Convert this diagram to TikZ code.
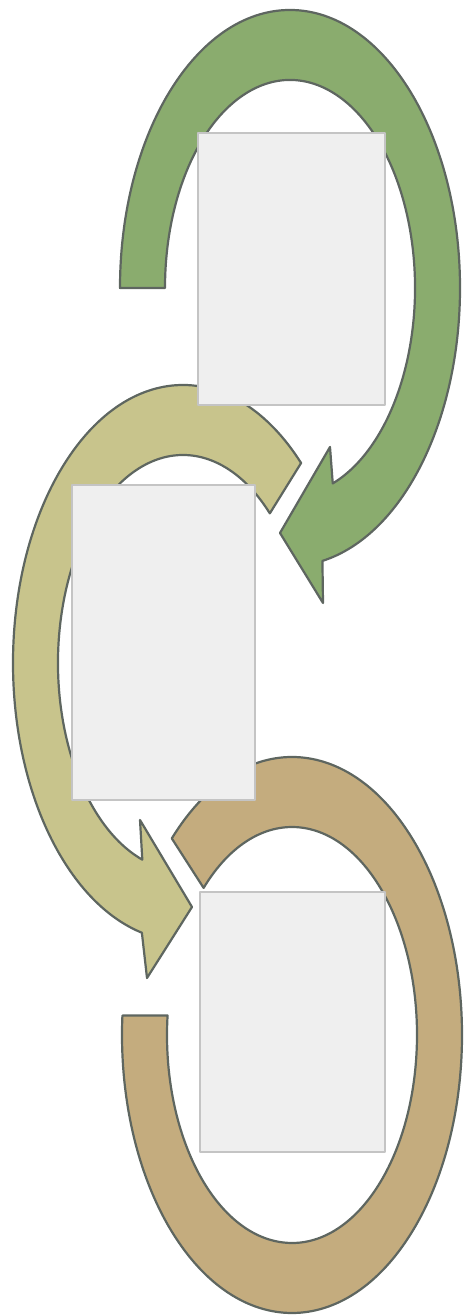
\documentclass[tikz,border=0pt]{standalone}
\usepackage{tikz}
\usetikzlibrary{calc}
\definecolor{ringgreen}{HTML}{8AAC6E}
\definecolor{ringolive}{HTML}{C8C48C}
\definecolor{ringtan}{HTML}{C4AC7E}
\definecolor{ringedge}{HTML}{5E6660}
\definecolor{cardfill}{HTML}{EFEFEF}
\definecolor{cardedge}{HTML}{C4C4C4}
\tikzset{
  ring/.style={draw=ringedge, line width=1.1pt},
  card/.style={rectangle, draw=cardedge, fill=cardfill, line width=0.7pt, inner sep=0pt},
  every picture/.style={line cap=round, line join=round}
}

\begin{document}
\begin{tikzpicture}[x=0.5pt,y=0.5pt]
  \useasboundingbox (0,0) rectangle (465,1316);

  % top arrow
  \begin{scope}[shift={(290,1028)}]
    \filldraw[ring, fill=ringgreen] (180:170 and 278)
      arc[start angle=180, end angle=-79, x radius=170, y radius=278]
      -- (33,-315) -- (-10,-245) -- (40,-159) -- (-70:125 and 208)
      arc[start angle=-70, end angle=180, x radius=125, y radius=208] -- cycle;
  \end{scope}

  % middle arrow
  \begin{scope}[shift={(183,653)}]
    \filldraw[ring, fill=ringolive] (46:170 and 278)
      arc[start angle=46, end angle=256, x radius=170, y radius=278]
      -- (-36,-315) -- (9,-244) -- (-43,-157) -- (251:125 and 208)
      arc[start angle=251, end angle=46, x radius=125, y radius=208] -- cycle;
  \end{scope}

  % bottom arrow
  \begin{scope}[shift={(292,281)}]
    \filldraw[ring, fill=ringtan] (135:170 and 278)
      arc[start angle=135, end angle=-184, x radius=170, y radius=278]
      -- (-185.4:125 and 208)
      arc[start angle=-185.4, end angle=135, x radius=125, y radius=208] -- cycle;
  \end{scope}

  % cards
  \node[card, minimum width=93.5pt, minimum height=136pt] (c1) at (291.5,1047) {};
  \node[card, minimum width=91.5pt, minimum height=157.5pt] (c2) at (163.5,673.5) {};
  \node[card, minimum width=92.5pt, minimum height=130pt] (c3) at (292.5,294) {};
\end{tikzpicture}
\end{document}
